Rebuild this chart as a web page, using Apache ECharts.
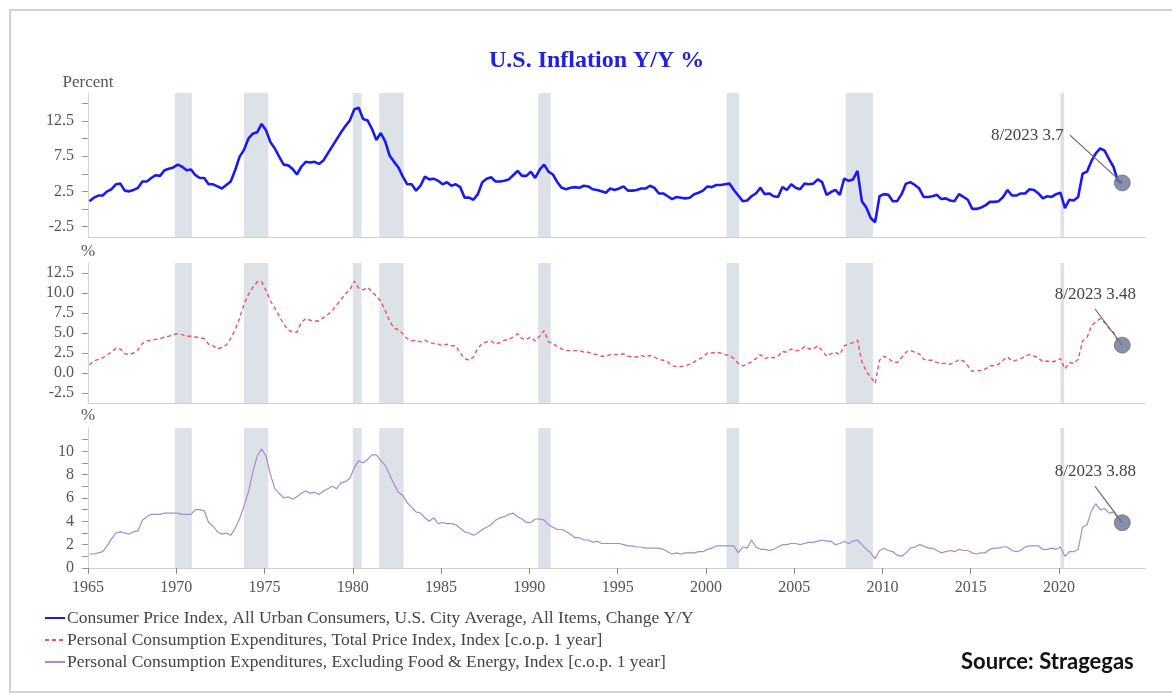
<!DOCTYPE html>
<html>
<head>
<meta charset="utf-8">
<script src="https://cdn.jsdelivr.net/npm/echarts@6/dist/echarts.min.js"></script>
<style>
html,body{margin:0;padding:0;background:#fff;}
#chart{width:1172px;height:695px;}
</style>
</head>
<body>
<div id="chart"></div>
<script>
// Quarterly observations (Feb, May, Aug, Nov) from Feb 1965 to Aug 2023
const firstObs = 1965 + 1 / 12;
const stepYears = 0.25;

const cpi = [
  1.1, 1.6, 1.9, 1.9,   // 1965
  2.5, 2.8, 3.5, 3.6,   // 1966
  2.6, 2.5, 2.7, 3.0,   // 1967
  3.9, 3.9, 4.4, 4.8,   // 1968
  4.7, 5.5, 5.7, 5.9,   // 1969
  6.3, 6.0, 5.5, 5.6,   // 1970
  4.8, 4.4, 4.4, 3.5,   // 1971
  3.5, 3.2, 2.9, 3.4,   // 1972
  3.9, 5.5, 7.4, 8.4,   // 1973
  10.0, 10.7, 10.9, 12.1, // 1974
  11.2, 9.5, 8.6, 7.4,  // 1975
  6.3, 6.2, 5.7, 4.9,   // 1976
  6.0, 6.7, 6.6, 6.7,   // 1977
  6.4, 6.9, 7.9, 8.9,   // 1978
  9.9, 10.9, 11.8, 12.6, // 1979
  14.2, 14.4, 12.8, 12.6, // 1980
  11.4, 9.8, 10.8, 9.6, // 1981
  7.6, 6.7, 5.9, 4.6,   // 1982
  3.5, 3.5, 2.6, 3.3,   // 1983
  4.6, 4.2, 4.3, 4.0,   // 1984
  3.5, 3.8, 3.3, 3.5,   // 1985
  3.1, 1.6, 1.6, 1.3,   // 1986
  2.1, 3.8, 4.3, 4.5,   // 1987
  3.9, 3.9, 4.0, 4.2,   // 1988
  4.8, 5.4, 4.7, 4.7,   // 1989
  5.3, 4.4, 5.6, 6.3,   // 1990
  5.3, 4.9, 3.8, 3.0,   // 1991
  2.8, 3.0, 3.1, 3.0,   // 1992
  3.3, 3.2, 2.8, 2.7,   // 1993
  2.5, 2.3, 2.9, 2.7,   // 1994
  2.9, 3.2, 2.6, 2.6,   // 1995
  2.7, 2.9, 2.9, 3.3,   // 1996
  3.0, 2.2, 2.2, 1.8,   // 1997
  1.4, 1.7, 1.6, 1.5,   // 1998
  1.6, 2.1, 2.3, 2.6,   // 1999
  3.2, 3.1, 3.4, 3.4,   // 2000
  3.5, 3.6, 2.7, 1.9,   // 2001
  1.1, 1.2, 1.8, 2.2,   // 2002
  3.0, 2.1, 2.2, 1.8,   // 2003
  1.7, 3.1, 2.7, 3.5,   // 2004
  3.0, 2.8, 3.6, 3.5,   // 2005
  3.6, 4.2, 3.8, 2.0,   // 2006
  2.4, 2.7, 2.0, 4.3,   // 2007
  4.0, 4.2, 5.4, 1.1,   // 2008
  0.2, -1.3, -1.9, 1.8, // 2009
  2.1, 2.0, 1.1, 1.1,   // 2010
  2.1, 3.6, 3.8, 3.4,   // 2011
  2.9, 1.7, 1.7, 1.8,   // 2012
  2.0, 1.4, 1.5, 1.2,   // 2013
  1.1, 2.1, 1.7, 1.3,   // 2014
  0.0, 0.0, 0.2, 0.5,   // 2015
  1.0, 1.0, 1.1, 1.7,   // 2016
  2.7, 1.9, 1.9, 2.2,   // 2017
  2.2, 2.8, 2.7, 2.2,   // 2018
  1.5, 1.8, 1.7, 2.1,   // 2019
  2.3, 0.1, 1.3, 1.2,   // 2020
  1.7, 5.0, 5.3, 6.8,   // 2021
  7.9, 8.6, 8.3, 7.1,   // 2022
  6.0, 4.0, 3.7         // 2023
];

const pce = [
  1.0, 1.5, 1.7, 1.9,   // 1965
  2.3, 2.6, 3.1, 3.0,   // 1966
  2.4, 2.3, 2.5, 2.9,   // 1967
  3.7, 4.0, 4.1, 4.2,   // 1968
  4.3, 4.5, 4.6, 4.8,   // 1969
  4.9, 4.8, 4.6, 4.6,   // 1970
  4.5, 4.4, 4.3, 3.6,   // 1971
  3.4, 3.0, 3.2, 3.5,   // 1972
  4.3, 5.4, 6.8, 8.6,   // 1973
  9.8, 10.7, 11.4, 11.4, // 1974
  10.3, 9.0, 8.1, 7.1,  // 1975
  6.1, 5.4, 5.1, 5.1,   // 1976
  6.3, 6.8, 6.6, 6.5,   // 1977
  6.5, 6.9, 7.3, 7.8,   // 1978
  8.5, 9.2, 9.9, 10.4,  // 1979
  11.5, 10.6, 10.4, 10.7, // 1980
  10.2, 9.6, 9.0, 7.8,  // 1981
  6.5, 5.6, 5.4, 4.9,   // 1982
  4.3, 4.0, 4.1, 3.9,   // 1983
  4.1, 3.8, 3.7, 3.6,   // 1984
  3.4, 3.6, 3.4, 3.4,   // 1985
  2.5, 1.8, 1.6, 2.0,   // 1986
  3.1, 3.7, 3.9, 4.0,   // 1987
  3.6, 3.8, 4.1, 4.2,   // 1988
  4.5, 4.9, 4.3, 4.2,   // 1989
  4.5, 4.0, 4.6, 5.3,   // 1990
  3.9, 3.7, 3.3, 3.0,   // 1991
  2.8, 2.8, 2.8, 2.8,   // 1992
  2.6, 2.6, 2.4, 2.3,   // 1993
  2.1, 2.1, 2.3, 2.3,   // 1994
  2.3, 2.4, 2.1, 2.0,   // 1995
  2.0, 2.2, 2.0, 2.2,   // 1996
  2.0, 1.7, 1.6, 1.4,   // 1997
  0.9, 0.8, 0.8, 0.9,   // 1998
  1.1, 1.4, 1.7, 2.0,   // 1999
  2.5, 2.5, 2.6, 2.5,   // 2000
  2.3, 2.2, 1.8, 1.2,   // 2001
  0.9, 1.1, 1.4, 1.8,   // 2002
  2.3, 1.8, 2.0, 1.9,   // 2003
  2.1, 2.7, 2.6, 3.0,   // 2004
  2.8, 2.8, 3.3, 3.0,   // 2005
  3.0, 3.4, 2.8, 2.1,   // 2006
  2.4, 2.6, 2.3, 3.4,   // 2007
  3.6, 3.8, 4.1, 1.4,   // 2008
  0.2, -0.5, -1.3, 1.6, // 2009
  2.1, 1.8, 1.4, 1.3,   // 2010
  1.9, 2.6, 2.8, 2.6,   // 2011
  2.4, 1.7, 1.6, 1.6,   // 2012
  1.3, 1.2, 1.2, 1.1,   // 2013
  1.3, 1.7, 1.5, 0.9,   // 2014
  0.2, 0.3, 0.3, 0.5,   // 2015
  0.9, 0.9, 1.1, 1.6,   // 2016
  2.0, 1.5, 1.6, 1.8,   // 2017
  2.1, 2.3, 2.1, 1.9,   // 2018
  1.4, 1.5, 1.4, 1.5,   // 2019
  1.8, 0.5, 1.3, 1.2,   // 2020
  1.7, 4.0, 4.4, 5.9,   // 2021
  6.4, 6.8, 6.3, 5.6,   // 2022
  5.1, 3.9, 3.48        // 2023
];

const core = [
  1.2, 1.2, 1.3, 1.4,   // 1965
  1.9, 2.5, 3.0, 3.1,   // 1966
  3.0, 2.9, 3.1, 3.2,   // 1967
  4.1, 4.4, 4.6, 4.6,   // 1968
  4.6, 4.7, 4.7, 4.7,   // 1969
  4.7, 4.6, 4.6, 4.6,   // 1970
  5.0, 5.0, 4.9, 3.9,   // 1971
  3.6, 3.1, 2.9, 3.0,   // 1972
  2.8, 3.4, 4.2, 5.3,   // 1973
  6.5, 8.2, 9.6, 10.2,  // 1974
  9.6, 8.0, 6.8, 6.4,   // 1975
  6.0, 6.1, 5.9, 6.1,   // 1976
  6.4, 6.6, 6.4, 6.5,   // 1977
  6.3, 6.6, 6.8, 7.0,   // 1978
  6.8, 7.3, 7.4, 7.7,   // 1979
  8.6, 9.2, 9.0, 9.3,   // 1980
  9.7, 9.7, 9.2, 8.8,   // 1981
  8.0, 7.2, 6.5, 6.2,   // 1982
  5.6, 5.2, 4.8, 4.7,   // 1983
  4.3, 4.0, 4.3, 3.8,   // 1984
  3.9, 3.8, 3.8, 3.7,   // 1985
  3.4, 3.1, 3.0, 2.8,   // 1986
  3.0, 3.3, 3.5, 3.7,   // 1987
  4.1, 4.3, 4.4, 4.6,   // 1988
  4.7, 4.4, 4.2, 3.9,   // 1989
  3.9, 4.2, 4.2, 4.1,   // 1990
  3.7, 3.5, 3.3, 3.3,   // 1991
  3.1, 2.9, 2.6, 2.6,   // 1992
  2.4, 2.4, 2.2, 2.3,   // 1993
  2.1, 2.1, 2.1, 2.1,   // 1994
  2.1, 2.0, 1.9, 1.9,   // 1995
  1.8, 1.8, 1.7, 1.7,   // 1996
  1.7, 1.7, 1.6, 1.4,   // 1997
  1.2, 1.3, 1.2, 1.3,   // 1998
  1.3, 1.3, 1.4, 1.4,   // 1999
  1.6, 1.7, 1.9, 1.9,   // 2000
  1.9, 1.9, 1.9, 1.3,   // 2001
  1.8, 1.7, 2.4, 1.8,   // 2002
  1.6, 1.6, 1.5, 1.6,   // 2003
  1.8, 2.0, 2.0, 2.1,   // 2004
  2.1, 2.0, 2.1, 2.2,   // 2005
  2.2, 2.3, 2.4, 2.3,   // 2006
  2.3, 2.0, 2.1, 2.3,   // 2007
  2.1, 2.3, 2.4, 2.0,   // 2008
  1.6, 1.3, 0.8, 1.5,   // 2009
  1.7, 1.5, 1.4, 1.1,   // 2010
  1.0, 1.3, 1.7, 1.8,   // 2011
  2.0, 1.9, 1.7, 1.7,   // 2012
  1.5, 1.3, 1.4, 1.5,   // 2013
  1.4, 1.6, 1.5, 1.5,   // 2014
  1.3, 1.2, 1.3, 1.3,   // 2015
  1.6, 1.7, 1.7, 1.8,   // 2016
  1.8, 1.5, 1.4, 1.5,   // 2017
  1.8, 1.9, 1.9, 1.9,   // 2018
  1.6, 1.6, 1.7, 1.6,   // 2019
  1.8, 1.0, 1.4, 1.4,   // 2020
  1.6, 3.5, 3.7, 4.9,   // 2021
  5.5, 5.0, 5.1, 4.7,   // 2022
  4.8, 4.3, 3.88        // 2023
];

// NBER recessions (decimal years)
const recStart = [1969.92, 1973.83, 1980.0, 1981.5, 1990.5, 2001.17, 2007.92, 2020.08];
const recEnd   = [1970.88, 1975.21, 1980.5, 1982.88, 1991.21, 2001.88, 2009.46, 2020.29];

const xTickYears = [1965, 1970, 1975, 1980, 1985, 1990, 1995, 2000, 2005, 2010, 2015, 2020];

const ticks1 = [-2.5, 0, 2.5, 5, 7.5, 10, 12.5, 15];
const labels1 = [-2.5, 2.5, 7.5, 12.5];
const ticks2 = [-2.5, 0, 2.5, 5, 7.5, 10, 12.5];
const ticks3 = [0, 1, 2, 3, 4, 5, 6, 7, 8, 9, 10, 11];
const labels3 = [0, 2, 4, 6, 8, 10];

const names = [
  'Consumer Price Index, All Urban Consumers, U.S. City Average, All Items, Change Y/Y',
  'Personal Consumption Expenditures, Total Price Index, Index [c.o.p. 1 year]',
  'Personal Consumption Expenditures, Excluding Food & Energy, Index [c.o.p. 1 year]'
];
const lastLabels = ['8/2023 3.7', '8/2023 3.48', '8/2023 3.88'];
// Leader-line anchor points (data space) for the annotations
const leaderFrom = [[2020.62, 10.5], [2022.04, 8.0], [2022.04, 7.0]];
const labelOffsets = [[-95, -47], [-27, -51], [-27, -51]];

function toPairs(arr) {
  return arr.map((v, i) => [firstObs + i * stepYears, v]);
}

const serif = '"Liberation Serif", "DejaVu Serif", serif';
const XMIN = 1965, XMAX = 2024.87;

const grids = [
  { left: 88, right: 27, top: 93, height: 144 },
  { left: 88, right: 27, top: 263, height: 140 },
  { left: 88, right: 27, top: 428, height: 140 }
];

const xAxes = grids.map((g, i) => ({
  type: 'value', gridIndex: i, min: XMIN, max: XMAX,
  axisLine: { show: true, onZero: false, lineStyle: { color: '#cfcfcf', width: 1 } },
  axisTick: { show: i === 2, customValues: xTickYears, length: 6, lineStyle: { color: '#888' } },
  axisLabel: { show: i === 2, customValues: xTickYears, formatter: v => String(v),
               fontFamily: serif, fontSize: 16, color: '#555', margin: 12 },
  splitLine: { show: false }
}));

const yCommon = {
  type: 'value',
  axisLine: { show: true, lineStyle: { color: '#d6d6d6' } },
  splitLine: { show: false },
  nameLocation: 'end',
  nameTextStyle: { fontFamily: serif, fontSize: 17, color: '#555', align: 'center' }
};
const yAxes = [
  Object.assign({}, yCommon, { gridIndex: 0, min: -4, max: 16.5, name: 'Percent', nameGap: 2,
    axisTick: { show: true, customValues: ticks1, length: 6, lineStyle: { color: '#999' } },
    axisLabel: { customValues: labels1, formatter: v => v.toFixed(1), fontFamily: serif, fontSize: 16, color: '#555', margin: 14 } }),
  Object.assign({}, yCommon, { gridIndex: 1, min: -3.75, max: 13.75, name: '%', nameGap: 3,
    axisTick: { show: true, customValues: ticks2, length: 6, lineStyle: { color: '#999' } },
    axisLabel: { customValues: ticks2, formatter: v => v.toFixed(1), fontFamily: serif, fontSize: 16, color: '#555', margin: 14 } }),
  Object.assign({}, yCommon, { gridIndex: 2, min: 0, max: 12, name: '%', nameGap: 4,
    axisTick: { show: true, customValues: ticks3, length: 6, lineStyle: { color: '#999' } },
    axisLabel: { customValues: labels3, formatter: v => String(v), fontFamily: serif, fontSize: 16, color: '#555', margin: 14 } })
];

const recessionAreas = recStart.map((s, i) => [{ xAxis: s }, { xAxis: recEnd[i] }]);

const seriesData = [cpi, pce, core];
const styles = [
  { color: '#1a1aee', width: 2.6, type: 'solid' },
  { color: '#f0505f', width: 1.4, type: [4, 3] },
  { color: '#a58bd0', width: 1.2, type: 'solid' }
];

const series = [];
for (let i = 0; i < 3; i++) {
  series.push({
    type: 'line', xAxisIndex: i, yAxisIndex: i, data: [], z: 1, silent: true,
    markArea: { silent: true, itemStyle: { color: '#dde1e8' }, data: recessionAreas }
  });
}
for (let i = 0; i < 3; i++) {
  const arr = seriesData[i];
  const last = [firstObs + (arr.length - 1) * stepYears, arr[arr.length - 1]];
  series.push({
    name: names[i], type: 'line', xAxisIndex: i, yAxisIndex: i, z: 3,
    data: toPairs(arr), symbol: 'none', showSymbol: false, smooth: false,
    lineStyle: { color: styles[i].color, width: styles[i].width, type: styles[i].type },
    itemStyle: { color: styles[i].color },
    markLine: {
      silent: true, symbol: ['none', 'none'], z: 4,
      lineStyle: { color: '#6b6b6b', width: 1.2, type: 'solid' },
      label: { show: false },
      data: [[{ coord: leaderFrom[i] }, { coord: last }]]
    },
    markPoint: {
      silent: true, z: 5,
      data: [{ coord: last, symbol: 'circle', symbolSize: 16,
        itemStyle: { color: 'rgba(108,120,145,0.82)', borderColor: 'rgba(85,95,118,0.6)', borderWidth: 1 },
        label: { show: true, position: 'inside', formatter: lastLabels[i], offset: labelOffsets[i],
                 fontFamily: serif, fontSize: 17, color: '#444' } }]
    }
  });
}

const option = {
  backgroundColor: '#ffffff',
  animation: false,
  title: {
    text: 'U.S. Inflation Y/Y %', left: 484, top: 44,
    textStyle: { fontFamily: serif, fontSize: 24, fontWeight: 'bold', color: '#2020e0' }
  },
  legend: {
    data: names, orient: 'vertical', left: 39, top: 604, itemWidth: 20, itemHeight: 14, itemGap: 4,
    selectedMode: false,
    itemStyle: { opacity: 0 },
    textStyle: { fontFamily: serif, fontSize: 17.5, color: '#444', padding: [0, 0, 0, -3] }
  },
  grid: grids,
  xAxis: xAxes,
  yAxis: yAxes,
  series: series,
  graphic: [
    { type: 'polyline', silent: true, shape: { points: [[1190, 10], [10, 10], [10, 692], [1190, 692]] },
      style: { stroke: '#d2d2d2', lineWidth: 2, fill: null } },
    { type: 'text', left: 961, top: 651, silent: true,
      style: { text: 'Source: Stragegas', font: 'bold 22px Lato, "Open Sans", sans-serif', fill: '#111' } }
  ]
};

const chart = echarts.init(document.getElementById('chart'), null, { renderer: 'canvas' });
chart.setOption(option);
</script>
</body>
</html>
